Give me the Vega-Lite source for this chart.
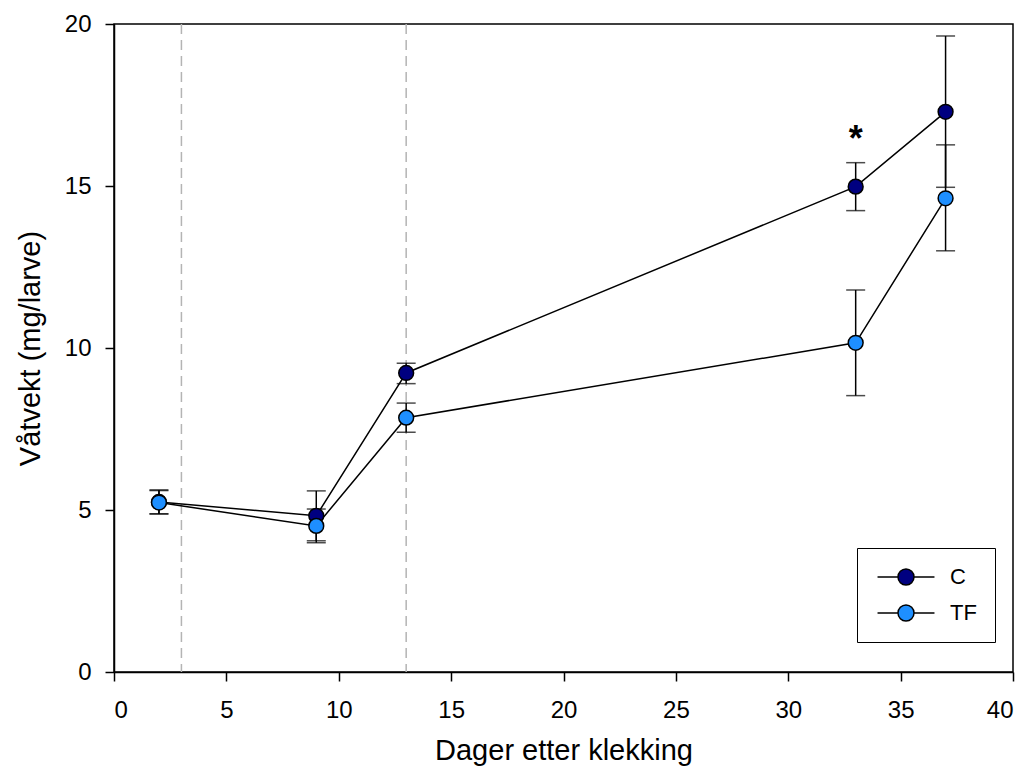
{
  "$schema": "https://vega.github.io/schema/vega-lite/v6.json",
  "width": 899,
  "height": 648,
  "autosize": {"type": "none"},
  "padding": {"left": 114, "top": 24, "right": 16, "bottom": 106},
  "background": "white",
  "config": {
    "font": "Liberation Sans",
    "view": {"stroke": "black", "strokeWidth": 1.5},
    "axis": {
      "grid": false,
      "domainColor": "black",
      "domainWidth": 1.5,
      "tickColor": "black",
      "tickWidth": 1.5,
      "tickSize": 9,
      "labelFont": "Liberation Sans",
      "labelFontSize": 24,
      "labelColor": "black",
      "titleFont": "Liberation Sans",
      "titleFontSize": 29,
      "titleFontWeight": "normal",
      "titleColor": "black"
    },
    "legend": {
      "strokeColor": "black",
      "padding": 18,
      "symbolStrokeColor": "black",
      "symbolStrokeWidth": 1.5,
      "labelFont": "Liberation Sans"
    }
  },
  "datasets": {
    "main": [
      {"day": 2, "group": "C", "mean": 5.25, "lo": 4.88, "hi": 5.62},
      {"day": 9, "group": "C", "mean": 4.82, "lo": 4.05, "hi": 5.59},
      {"day": 13, "group": "C", "mean": 9.23, "lo": 8.9, "hi": 9.53},
      {"day": 33, "group": "C", "mean": 14.98, "lo": 14.24, "hi": 15.72},
      {"day": 37, "group": "C", "mean": 17.29, "lo": 14.96, "hi": 19.63},
      {"day": 2, "group": "TF", "mean": 5.23, "lo": 4.88, "hi": 5.6},
      {"day": 9, "group": "TF", "mean": 4.51, "lo": 3.99, "hi": 5.03},
      {"day": 13, "group": "TF", "mean": 7.85, "lo": 7.4, "hi": 8.3},
      {"day": 33, "group": "TF", "mean": 10.16, "lo": 8.53, "hi": 11.79},
      {"day": 37, "group": "TF", "mean": 14.62, "lo": 13.0, "hi": 16.27}
    ]
  },
  "data": {"name": "main"},
  "layer": [
    {
      "data": {"values": [{"d": 3}, {"d": 13}]},
      "mark": {"type": "rule", "color": "#b4b4b4", "strokeWidth": 1.5, "strokeDash": [10, 6]},
      "encoding": {
        "x": {"field": "d", "type": "quantitative", "scale": {"domain": [0, 40]}}
      }
    },
    {
      "mark": {"type": "line", "color": "black", "strokeWidth": 1.5},
      "encoding": {
        "x": {"field": "day", "type": "quantitative", "scale": {"domain": [0, 40], "nice": false},
          "axis": {"values": [0, 5, 10, 15, 20, 25, 30, 35, 40], "title": "Dager etter klekking", "labelPadding": 17,
            "titleX": 449.5, "titleY": 78, "titleBaseline": "middle", "titleAlign": "center"}},
        "y": {"field": "mean", "type": "quantitative", "scale": {"domain": [0, 20], "nice": false},
          "axis": {"values": [0, 5, 10, 15, 20], "title": "Våtvekt (mg/larve)", "labelPadding": 14,
            "titleX": -84, "titleY": 324, "titleBaseline": "middle", "titleAlign": "center", "titleAngle": -90}},
        "detail": {"field": "group"}
      }
    },
    {
      "mark": {"type": "rule", "color": "black", "strokeWidth": 1.5},
      "encoding": {
        "x": {"field": "day", "type": "quantitative"},
        "y": {"field": "lo", "type": "quantitative"},
        "y2": {"field": "hi"}
      }
    },
    {
      "mark": {"type": "tick", "orient": "horizontal", "color": "black", "thickness": 1.5, "size": 19},
      "encoding": {
        "x": {"field": "day", "type": "quantitative"},
        "y": {"field": "lo", "type": "quantitative"}
      }
    },
    {
      "mark": {"type": "tick", "orient": "horizontal", "color": "black", "thickness": 1.5, "size": 19},
      "encoding": {
        "x": {"field": "day", "type": "quantitative"},
        "y": {"field": "hi", "type": "quantitative"}
      }
    },
    {
      "mark": {"type": "point", "shape": "circle", "filled": true, "size": 220, "stroke": "black", "strokeWidth": 1.5, "opacity": 1},
      "encoding": {
        "x": {"field": "day", "type": "quantitative"},
        "y": {"field": "mean", "type": "quantitative"},
        "fill": {
          "field": "group", "type": "nominal",
          "scale": {"domain": ["C", "TF"], "range": ["#000080", "#1E8FFF"]},
          "legend": {
            "title": null,
            "orient": "none",
            "legendX": 743,
            "legendY": 524,
            "symbolType": "M-3.56,0H-1M1,0H3.56M-1,0A1,1 0 1,0 1,0A1,1 0 1,0 -1,0Z",
            "symbolSize": 256,
            "symbolOffset": 20,
            "symbolOpacity": 1,
            "labelFontSize": 22,
            "labelColor": "black",
            "labelOffset": 33,
            "rowPadding": 14
          }
        }
      }
    },
    {
      "data": {"values": [{"day": 33, "y": 16.7, "label": "*"}]},
      "mark": {"type": "text", "fontSize": 36, "fontWeight": "bold", "color": "black", "baseline": "middle", "dy": 9},
      "encoding": {
        "x": {"field": "day", "type": "quantitative"},
        "y": {"field": "y", "type": "quantitative"},
        "text": {"field": "label"}
      }
    }
  ]
}
